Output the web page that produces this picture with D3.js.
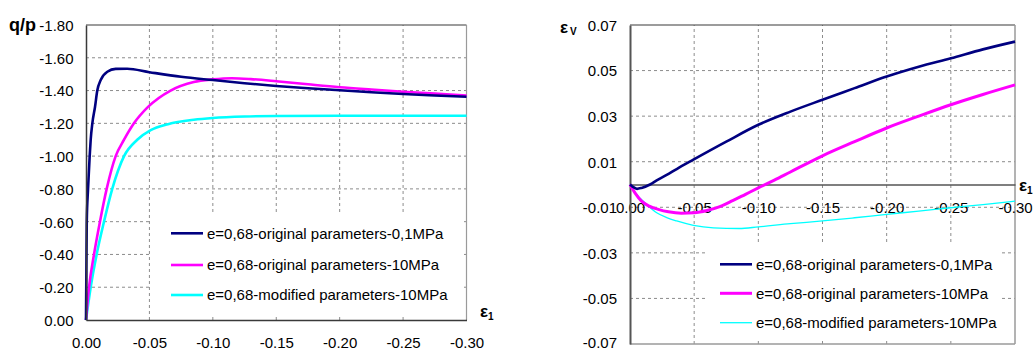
<!DOCTYPE html>
<html>
<head>
<meta charset="utf-8">
<script src="https://cdn.jsdelivr.net/npm/d3@7"></script>
<style>
  html, body { margin: 0; padding: 0; background: #fff; }
  svg { display: block; font-family: "Liberation Sans", Arial, sans-serif; }
</style>
</head>
<body>
<svg id="chart" width="1033" height="350"></svg>
<script>
// ---- Series labels and colours ----
const seriesNames = [
  "e=0,68-original parameters-0,1MPa",
  "e=0,68-original parameters-10MPa",
  "e=0,68-modified parameters-10MPa"
];
const seriesColors = ["#000080", "#ff00ff", "#00ffff"];

// ---- Stress ratio q/p versus axial strain ε1 ----
const qpOrig01 = [
  [0, 0], [-0.0003, -0.30], [-0.0006, -0.60], [-0.0016, -0.80], [-0.0029, -1.00],
  [-0.0037, -1.10], [-0.005, -1.20], [-0.0071, -1.30], [-0.0089, -1.40],
  [-0.0116, -1.464], [-0.0168, -1.515], [-0.0234, -1.532], [-0.0325, -1.533],
  [-0.05, -1.512], [-0.075, -1.484], [-0.10, -1.464], [-0.125, -1.445],
  [-0.15, -1.428], [-0.175, -1.414], [-0.20, -1.402], [-0.225, -1.39],
  [-0.25, -1.379], [-0.275, -1.37], [-0.30, -1.362]
];
const qpOrig10 = [
  [0, 0], [-0.0024, -0.20], [-0.0063, -0.40], [-0.011, -0.60], [-0.0163, -0.80],
  [-0.0234, -1.00], [-0.030, -1.10], [-0.0378, -1.20], [-0.0489, -1.30],
  [-0.0667, -1.40], [-0.085, -1.452], [-0.10, -1.468], [-0.115, -1.475],
  [-0.13, -1.470], [-0.15, -1.457], [-0.175, -1.438], [-0.20, -1.420],
  [-0.225, -1.406], [-0.25, -1.393], [-0.275, -1.381], [-0.30, -1.37]
];
const qpMod10 = [
  [0, 0], [-0.0037, -0.20], [-0.0084, -0.40], [-0.0142, -0.60], [-0.0207, -0.80],
  [-0.030, -1.00], [-0.0404, -1.10], [-0.051, -1.159], [-0.0646, -1.195],
  [-0.085, -1.222], [-0.10, -1.233], [-0.125, -1.242], [-0.15, -1.245],
  [-0.20, -1.246], [-0.25, -1.246], [-0.30, -1.246]
];

// ---- Volumetric strain εv versus axial strain ε1 ----
const evOrig01 = [
  [0, 0], [-0.003, -0.0013], [-0.0055, -0.0019], [-0.009, -0.0015], [-0.0156, 0],
  [-0.0208, 0.0018], [-0.0286, 0.0042], [-0.0364, 0.0068], [-0.0494, 0.0109],
  [-0.075, 0.0188], [-0.10, 0.0262], [-0.125, 0.032], [-0.15, 0.0372],
  [-0.175, 0.0423], [-0.20, 0.0474], [-0.225, 0.0517], [-0.25, 0.0554],
  [-0.275, 0.0593], [-0.30, 0.0627]
];
const evOrig10 = [
  [0, 0], [-0.004, -0.0038], [-0.009, -0.0073], [-0.015, -0.0095], [-0.022, -0.0109],
  [-0.03, -0.012], [-0.04, -0.0126], [-0.05, -0.0124], [-0.06, -0.0114],
  [-0.07, -0.0097], [-0.08, -0.0071], [-0.09, -0.0043], [-0.10, -0.0015],
  [-0.1125, 0.0019], [-0.125, 0.0055], [-0.15, 0.0126], [-0.175, 0.0188],
  [-0.20, 0.0248], [-0.225, 0.0300], [-0.25, 0.035], [-0.275, 0.0395], [-0.30, 0.0437]
];
const evMod10 = [
  [0, 0], [-0.005, -0.0042], [-0.0115, -0.008], [-0.0208, -0.0124], [-0.0286, -0.0145],
  [-0.0364, -0.016], [-0.0494, -0.0179], [-0.065, -0.019], [-0.085, -0.0193],
  [-0.10, -0.0186], [-0.125, -0.0172], [-0.15, -0.016], [-0.175, -0.0146],
  [-0.20, -0.0131], [-0.225, -0.0117], [-0.25, -0.0102], [-0.275, -0.0088],
  [-0.30, -0.0073]
];

// ---- Tick values ----
const strainTicks = [0, -0.05, -0.10, -0.15, -0.20, -0.25, -0.30];
const qpTicks = [0, -0.2, -0.4, -0.6, -0.8, -1.0, -1.2, -1.4, -1.6, -1.8];
const evTicks = [0.07, 0.05, 0.03, 0.01, -0.01, -0.03, -0.05, -0.07];

// two decimals with a plain hyphen for the minus sign
const fmt = v => (Math.abs(v) < 1e-9 ? "0.00" : v.toFixed(2));

const svg = d3.select("#chart");
svg.append("rect").attr("width", 1033).attr("height", 350).attr("fill", "#fff");

const GRID = "#8c8c8c";
const AXIS = "#3a3a3a";
const FRAME = "#9a9a9a";
const FONT = 15;

function gridLines(g, xs, ys, xVals, yVals) {
  const [x0, x1] = xs.range();
  const [y0, y1] = ys.range();
  g.selectAll(".gx").data(xVals).join("line")
    .attr("x1", d => xs(d)).attr("x2", d => xs(d))
    .attr("y1", y0).attr("y2", y1)
    .attr("stroke", GRID).attr("stroke-width", 1).attr("stroke-dasharray", "3,3");
  g.selectAll(".gy").data(yVals).join("line")
    .attr("x1", x0).attr("x2", x1)
    .attr("y1", d => ys(d)).attr("y2", d => ys(d))
    .attr("stroke", GRID).attr("stroke-width", 1).attr("stroke-dasharray", "3,3");
}

function line(g, xs, ys, pts, color, width) {
  g.append("path")
    .datum(pts)
    .attr("fill", "none")
    .attr("stroke", color)
    .attr("stroke-width", width)
    .attr("stroke-linejoin", "round")
    .attr("d", d3.line().x(d => xs(d[0])).y(d => ys(d[1])).curve(d3.curveMonotoneX));
}

function legend(g, box, x, ys, widths) {
  g.append("rect")
    .attr("x", box[0]).attr("y", box[1]).attr("width", box[2]).attr("height", box[3])
    .attr("fill", "#fff");
  seriesNames.forEach((name, i) => {
    g.append("line")
      .attr("x1", x).attr("x2", x + 32)
      .attr("y1", ys[i]).attr("y2", ys[i])
      .attr("stroke", seriesColors[i]).attr("stroke-width", widths[i]);
    g.append("text")
      .attr("x", x + 36).attr("y", ys[i]).attr("dy", "0.36em")
      .attr("font-size", FONT).attr("fill", "#000")
      .text(name);
  });
}

// ================= Left panel: q/p =================
{
  const g = svg.append("g");
  const x = d3.scaleLinear().domain([0, -0.30]).range([86, 466.5]);
  const y = d3.scaleLinear().domain([0, -1.80]).range([320, 25]);

  gridLines(g, x, y, strainTicks.slice(1, -1), qpTicks.slice(1, -1));
  legend(g, [151, 214, 311, 100], 171, [233.3, 265, 295], [2.6, 2.6, 2.6]);

  // frame
  g.append("line").attr("x1", 86).attr("x2", 466.5).attr("y1", 25).attr("y2", 25)
    .attr("stroke", AXIS).attr("stroke-width", 1.2);
  g.append("line").attr("x1", 466.5).attr("x2", 466.5).attr("y1", 25).attr("y2", 320)
    .attr("stroke", FRAME).attr("stroke-width", 1.2);

  line(g, x, y, qpMod10, seriesColors[2], 2.6);
  line(g, x, y, qpOrig10, seriesColors[1], 2.6);
  line(g, x, y, qpOrig01, seriesColors[0], 2.6);

  // axes
  const xAxis = d3.axisBottom(x).tickValues(strainTicks).tickSize(0).tickFormat(fmt).tickPadding(0);
  const gx = g.append("g").attr("transform", "translate(0,320)").call(xAxis);
  gx.select(".domain").attr("stroke", AXIS).attr("stroke-width", 1.5);
  gx.selectAll("text").attr("font-size", FONT).attr("font-family", null)
    .attr("fill", "#000").attr("y", 27.5).attr("dy", null);

  const yAxis = d3.axisLeft(y).tickValues(qpTicks).tickSize(0).tickFormat(fmt).tickPadding(0);
  const gy = g.append("g").attr("transform", "translate(86,0)").call(yAxis);
  gy.select(".domain").attr("stroke", AXIS).attr("stroke-width", 1.5);
  gy.selectAll("text").attr("font-size", FONT).attr("font-family", null)
    .attr("fill", "#000").attr("x", -12.5).attr("dy", "0.36em");

  // axis titles
  g.append("text").attr("x", 9).attr("y", 31).attr("font-size", 18)
    .attr("font-weight", "bold").text("q/p");
  const t = g.append("text").attr("x", 480).attr("y", 317).attr("font-weight", "bold");
  t.append("tspan").attr("font-size", 17).text("ε");
  t.append("tspan").attr("font-size", 10).attr("dy", 3).text("1");
}

// ================= Right panel: εv =================
{
  const g = svg.append("g");
  const x = d3.scaleLinear().domain([0, -0.30]).range([630, 1015]);
  const y = d3.scaleLinear().domain([-0.07, 0.07]).range([344, 25]);

  gridLines(g, x, y, strainTicks.slice(1, -1), evTicks.slice(1, -1));
  legend(g, [707, 243, 293, 96], 720, [264.3, 293.3, 322.7], [2.6, 3, 1.3]);

  // frame
  g.append("line").attr("x1", 630).attr("x2", 1015).attr("y1", 25).attr("y2", 25)
    .attr("stroke", AXIS).attr("stroke-width", 1.2);
  g.append("line").attr("x1", 1015).attr("x2", 1015).attr("y1", 25).attr("y2", 344)
    .attr("stroke", FRAME).attr("stroke-width", 1.5);
  g.append("line").attr("x1", 630).attr("x2", 1015).attr("y1", 344).attr("y2", 344)
    .attr("stroke", FRAME).attr("stroke-width", 1.5);

  // axes
  const xAxis = d3.axisBottom(x).tickValues(strainTicks).tickSize(0).tickFormat(fmt).tickPadding(0);
  const gx = g.append("g").attr("transform", `translate(0,${y(0)})`).call(xAxis);
  gx.select(".domain").attr("stroke", "#555").attr("stroke-width", 1.5);
  gx.selectAll("text").attr("font-size", FONT).attr("font-family", null)
    .attr("fill", "#000").attr("y", 28.5).attr("dy", null);

  const yAxis = d3.axisLeft(y).tickValues(evTicks).tickSize(0).tickFormat(fmt).tickPadding(0);
  const gy = g.append("g").attr("transform", "translate(630,0)").call(yAxis);
  gy.select(".domain").attr("stroke", "#555").attr("stroke-width", 2);
  gy.selectAll("text").attr("font-size", FONT).attr("font-family", null)
    .attr("fill", "#000").attr("x", -13).attr("dy", "0.36em");
  // keep the lowest label inside the page
  gy.selectAll(".tick").filter(d => d === -0.07).select("text").attr("dy", "0.2em");

  line(g, x, y, evMod10, seriesColors[2], 1.3);
  line(g, x, y, evOrig10, seriesColors[1], 3);
  line(g, x, y, evOrig01, seriesColors[0], 2.6);

  // axis titles
  const tv = g.append("text").attr("x", 560).attr("y", 33).attr("font-weight", "bold");
  tv.append("tspan").attr("font-size", 17).text("ε");
  tv.append("tspan").attr("font-size", 10).attr("dy", 2).attr("dx", 2).text("V");
  const t1 = g.append("text").attr("x", 1019).attr("y", 191).attr("font-weight", "bold");
  t1.append("tspan").attr("font-size", 17).text("ε");
  t1.append("tspan").attr("font-size", 10).attr("dy", 3).text("1");
}
</script>
</body>
</html>
